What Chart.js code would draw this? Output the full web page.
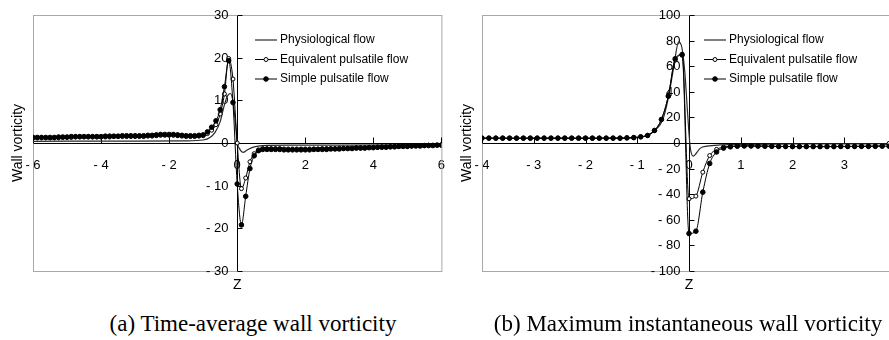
<!DOCTYPE html>
<html>
<head>
<meta charset="utf-8">
<script src="https://cdn.jsdelivr.net/npm/chart.js@4.4.1/dist/chart.umd.min.js"></script>
<style>
  html, body { margin: 0; padding: 0; overflow: hidden; background: #fff; }
  #page { position: relative; width: 889px; height: 340px; overflow: hidden; background: #fff; }
  #page canvas { position: absolute; top: 0; }
  .caption {
    position: absolute; top: 311px; height: 28px; line-height: 28px;
    font: 23px 'Liberation Serif', 'Times New Roman', serif; color: #000;
    white-space: nowrap; transform: translateX(-50%);
  }
</style>
</head>
<body>
<div id="page">
  <canvas id="chart-a" width="460" height="300" style="left:0"></canvas>
  <canvas id="chart-b" width="470" height="300" style="left:445px"></canvas>
  <div class="caption" style="left:253px">(a) Time-average wall vorticity</div>
  <div class="caption" style="left:688px">(b) Maximum instantaneous wall vorticity</div>
</div>
<script>
const seriesNames = ['Physiological flow', 'Equivalent pulsatile flow', 'Simple pulsatile flow'];
const yTitle = 'Wall vorticity';
const xTitle = 'Z';

// (a) time-average wall vorticity, sampled every 0.125 in Z
const zA = [
  -6, -5.875, -5.75, -5.625, -5.5, -5.375, -5.25, -5.125,
  -5, -4.875, -4.75, -4.625, -4.5, -4.375, -4.25, -4.125,
  -4, -3.875, -3.75, -3.625, -3.5, -3.375, -3.25, -3.125,
  -3, -2.875, -2.75, -2.625, -2.5, -2.375, -2.25, -2.125,
  -2, -1.875, -1.75, -1.625, -1.5, -1.375, -1.25, -1.125,
  -1, -0.875, -0.75, -0.625, -0.5, -0.375, -0.25, -0.125,
  0, 0.125, 0.25, 0.375, 0.5, 0.625, 0.75, 0.875,
  1, 1.125, 1.25, 1.375, 1.5, 1.625, 1.75, 1.875,
  2, 2.125, 2.25, 2.375, 2.5, 2.625, 2.75, 2.875,
  3, 3.125, 3.25, 3.375, 3.5, 3.625, 3.75, 3.875,
  4, 4.125, 4.25, 4.375, 4.5, 4.625, 4.75, 4.875,
  5, 5.125, 5.25, 5.375, 5.5, 5.625, 5.75, 5.875,
  6
];
const equivA = [
  1.2, 1.2, 1.2, 1.2, 1.2, 1.2, 1.2, 1.3,
  1.3, 1.3, 1.4, 1.4, 1.4, 1.4, 1.4, 1.4,
  1.4, 1.4, 1.4, 1.5, 1.5, 1.5, 1.5, 1.5,
  1.5, 1.5, 1.5, 1.6, 1.6, 1.7, 1.8, 1.8,
  1.8, 1.8, 1.7, 1.6, 1.5, 1.5, 1.5, 1.6,
  1.7, 2.2, 3.0, 4.3, 6.8, 11.5, 19.8, 15.0,
  0, -10.7, -8.2, -4.4, -2.5, -1.6, -1.3, -1.3,
  -1.3, -1.3, -1.3, -1.4, -1.4, -1.4, -1.4, -1.4,
  -1.4, -1.4, -1.4, -1.4, -1.3, -1.3, -1.3, -1.3,
  -1.2, -1.2, -1.2, -1.2, -1.1, -1.1, -1.1, -1.0,
  -1.0, -1.0, -0.9, -0.9, -0.9, -0.8, -0.8, -0.7,
  -0.7, -0.7, -0.6, -0.6, -0.6, -0.5, -0.5, -0.5,
  -0.4
];
const simpleA = [
  1.3, 1.3, 1.3, 1.3, 1.3, 1.3, 1.4, 1.4,
  1.4, 1.5, 1.5, 1.5, 1.5, 1.5, 1.5, 1.5,
  1.5, 1.6, 1.6, 1.6, 1.6, 1.7, 1.7, 1.7,
  1.7, 1.7, 1.7, 1.8, 1.8, 1.9, 2.0, 2.0,
  2.0, 2.0, 1.9, 1.8, 1.7, 1.7, 1.7, 1.8,
  1.9, 2.6, 3.7, 5.2, 7.8, 13.2, 19.3, 9.5,
  -9.6, -19.2, -12.5, -6.0, -3.0, -1.8, -1.5, -1.5,
  -1.5, -1.5, -1.5, -1.6, -1.6, -1.6, -1.6, -1.6,
  -1.6, -1.6, -1.5, -1.5, -1.5, -1.5, -1.4, -1.4,
  -1.4, -1.3, -1.3, -1.3, -1.2, -1.2, -1.2, -1.1,
  -1.1, -1.0, -1.0, -1.0, -0.9, -0.9, -0.8, -0.8,
  -0.8, -0.7, -0.7, -0.7, -0.6, -0.6, -0.6, -0.5,
  -0.5
];
const zPhysA = [-6, -3, -1.5, -1.0, -0.8, -0.65, -0.5, -0.4, -0.3, -0.2, -0.12, -0.05, 0, 0.08, 0.17, 0.3, 0.5, 0.75, 1.5, 3, 6];
const physA = [0.4, 0.45, 0.5, 0.7, 1.3, 2.5, 5.0, 8.2, 10.8, 11.6, 9.5, 4.5, 0.3, -1.5, -2.2, -1.6, -0.9, -0.6, -0.5, -0.5, -0.4];

// (b) maximum instantaneous wall vorticity, sampled every 2/15 in Z
const zB = [
  -4, -3.867, -3.733, -3.6, -3.467, -3.333, -3.2, -3.067, -2.933, -2.8,
  -2.667, -2.533, -2.4, -2.267, -2.133, -2, -1.867, -1.733, -1.6, -1.467,
  -1.333, -1.2, -1.067, -0.933, -0.8, -0.667, -0.533, -0.4, -0.267, -0.133,
  0,
  0.133, 0.267, 0.4, 0.533, 0.667, 0.8, 0.933, 1.067, 1.2, 1.333,
  1.467, 1.6, 1.733, 1.867, 2, 2.133, 2.267, 2.4, 2.533, 2.667,
  2.8, 2.933, 3.067, 3.2, 3.333, 3.467, 3.6, 3.733, 3.867, 4
];
const equivB = [
  3.8, 3.8, 3.8, 3.8, 3.8, 3.8, 3.8, 3.8, 3.8, 3.8,
  3.8, 3.8, 3.8, 3.8, 3.8, 3.8, 3.8, 3.8, 3.8, 3.8,
  3.8, 4.0, 4.2, 4.8, 5.9, 9.8, 18.4, 36.6, 65.0, 68.5,
  -43.6,
  -41.5, -22.8, -9.8, -5.0, -3.2, -2.6, -2.3, -2.2, -2.3, -2.4,
  -2.5, -2.6, -2.7, -2.7, -2.8, -2.8, -2.8, -2.8, -2.8, -2.8,
  -2.7, -2.7, -2.7, -2.6, -2.6, -2.5, -2.4, -2.0, -0.3, 1.5
];
const simpleB = [
  3.8, 3.8, 3.8, 3.8, 3.8, 3.8, 3.8, 3.8, 3.8, 3.8,
  3.8, 3.8, 3.8, 3.8, 3.8, 3.8, 3.8, 3.8, 3.8, 3.8,
  3.8, 4.0, 4.2, 4.8, 5.9, 9.8, 18.4, 36.6, 65.8, 69.1,
  -70.7,
  -68.9, -38.4, -16.0, -7.0, -4.0, -3.0, -2.5, -2.3, -2.3, -2.4,
  -2.5, -2.6, -2.7, -2.7, -2.8, -2.8, -2.8, -2.8, -2.8, -2.8,
  -2.8, -2.7, -2.7, -2.7, -2.6, -2.6, -2.6, -2.5, -2.5, -2.4
];
const zPhysB = [-4, -2, -1.4, -1.0, -0.8, -0.65, -0.5, -0.4, -0.3, -0.2, -0.14, -0.08, -0.03, 0.02, 0.08, 0.14, 0.22, 0.35, 0.6, 1.0, 2, 4];
const physB = [3.5, 3.5, 3.6, 4.3, 6.0, 10, 19, 35, 58, 79, 75, 55, 25, -2, -10.3, -8, -4, -2.5, -1.5, -1.0, -0.8, -0.6];

const tickFont = { family: "'Liberation Sans', Arial, sans-serif", size: 13 };

function pts(xs, ys) {
  return xs.map((x, i) => ({ x: x, y: ys[i] }));
}

function fmt(v) {
  return v < 0 ? '- ' + Math.abs(v) : String(v);
}

// box, inward tick marks, y labels left of the zero line, legend and axis titles
const framePlugin = {
  id: 'frame',
  beforeDatasetsDraw(chart) {
    const { ctx, chartArea: a, scales: { x, y } } = chart;
    const x0 = Math.round(x.getPixelForValue(0)) + 0.5;
    const y0 = Math.round(y.getPixelForValue(0)) + 0.5;
    ctx.save();
    ctx.strokeStyle = '#a9a9a9';
    ctx.lineWidth = 1;
    ctx.strokeRect(a.left + 0.5, a.top + 0.5, a.right - a.left, a.bottom - a.top);
    ctx.strokeStyle = '#000';
    ctx.beginPath();
    y.ticks.forEach(t => {
      const py = Math.round(y.getPixelForValue(t.value)) + 0.5;
      ctx.moveTo(x0, py);
      ctx.lineTo(x0 + 5, py);
    });
    x.ticks.forEach(t => {
      if (t.value === 0) return;
      const px = Math.round(x.getPixelForValue(t.value)) + 0.5;
      ctx.moveTo(px, y0);
      ctx.lineTo(px, y0 - 6);
    });
    ctx.stroke();

    ctx.fillStyle = '#000';
    ctx.font = "13px 'Liberation Sans', Arial, sans-serif";
    ctx.textAlign = 'right';
    ctx.textBaseline = 'middle';
    y.ticks.forEach(t => {
      ctx.fillText(fmt(t.value), x0 - 9, y.getPixelForValue(t.value) + 0.5);
    });
    ctx.restore();
  },
  afterDraw(chart) {
    const { ctx, chartArea: a, scales: { x, y } } = chart;
    ctx.save();
    ctx.fillStyle = '#000';

    // legend
    const lx = a.left + 222;
    ctx.font = "12px 'Liberation Sans', Arial, sans-serif";
    ctx.textBaseline = 'middle';
    ctx.textAlign = 'left';
    chart.data.datasets.forEach((ds, i) => {
      const ly = a.top + 25 + i * 19.5;
      ctx.strokeStyle = ds.borderColor;
      ctx.lineWidth = ds.borderWidth;
      ctx.beginPath();
      ctx.moveTo(lx, ly);
      ctx.lineTo(lx + 22, ly);
      ctx.stroke();
      if (ds.pointRadius > 0) {
        ctx.beginPath();
        ctx.arc(lx + 11, ly, ds.pointRadius, 0, Math.PI * 2);
        ctx.fillStyle = ds.pointBackgroundColor;
        ctx.fill();
        ctx.lineWidth = 1;
        ctx.strokeStyle = ds.pointBorderColor;
        ctx.stroke();
      }
      ctx.fillStyle = '#000';
      ctx.fillText(ds.label, lx + 25, ly);
    });

    // axis titles
    ctx.font = "14px 'Liberation Sans', Arial, sans-serif";
    ctx.textAlign = 'center';
    ctx.fillText(xTitle, x.getPixelForValue(0), a.bottom + 14);
    ctx.translate(a.left - 15, y.getPixelForValue(0));
    ctx.rotate(-Math.PI / 2);
    ctx.fillText(yTitle, 0, 0);
    ctx.restore();
  }
};

function makeChart(id, cfg) {
  return new Chart(document.getElementById(id), {
    type: 'line',
    data: {
      datasets: [
        {
          label: seriesNames[0], data: pts(cfg.zPhys, cfg.phys), order: 3,
          borderColor: '#2a2a2a', borderWidth: 1.2, pointRadius: 0,
          cubicInterpolationMode: 'monotone'
        },
        {
          label: seriesNames[1], data: pts(cfg.z, cfg.equiv), order: 2,
          borderColor: '#000', borderWidth: 1, pointRadius: 2,
          pointBackgroundColor: '#fff', pointBorderColor: '#000', pointBorderWidth: 1,
          cubicInterpolationMode: 'monotone'
        },
        {
          label: seriesNames[2], data: pts(cfg.z, cfg.simple), order: 1,
          borderColor: '#000', borderWidth: 1, pointRadius: 2.3,
          pointBackgroundColor: '#000', pointBorderColor: '#000', pointBorderWidth: 1,
          cubicInterpolationMode: 'monotone'
        }
      ]
    },
    options: {
      responsive: false,
      animation: false,
      layout: { padding: { left: cfg.padLeft, top: 15, right: cfg.padRight, bottom: 29 } },
      plugins: { legend: { display: false }, tooltip: { enabled: false } },
      scales: {
        x: {
          type: 'linear', min: -cfg.xMax, max: cfg.xMax, position: { y: 0 },
          grid: { display: false, drawTicks: false },
          border: { display: true, color: '#000', width: 1 },
          ticks: { stepSize: cfg.xStep, padding: 15, color: '#000', font: tickFont, callback: fmt, maxRotation: 0, autoSkip: false }
        },
        y: {
          type: 'linear', min: -cfg.yMax, max: cfg.yMax, position: { x: 0 },
          grid: { display: false, drawTicks: false },
          border: { display: true, color: '#000', width: 1 },
          ticks: { stepSize: cfg.yStep, display: false }
        }
      }
    },
    plugins: [framePlugin]
  });
}

makeChart('chart-a', {
  z: zA, equiv: equivA, simple: simpleA, zPhys: zPhysA, phys: physA,
  xMax: 6, xStep: 2, yMax: 30, yStep: 10, padLeft: 33, padRight: 13
});
makeChart('chart-b', {
  z: zB, equiv: equivB, simple: simpleB, zPhys: zPhysB, phys: physB,
  xMax: 4, xStep: 1, yMax: 100, yStep: 20, padLeft: 37, padRight: 19
});
</script>
</body>
</html>
